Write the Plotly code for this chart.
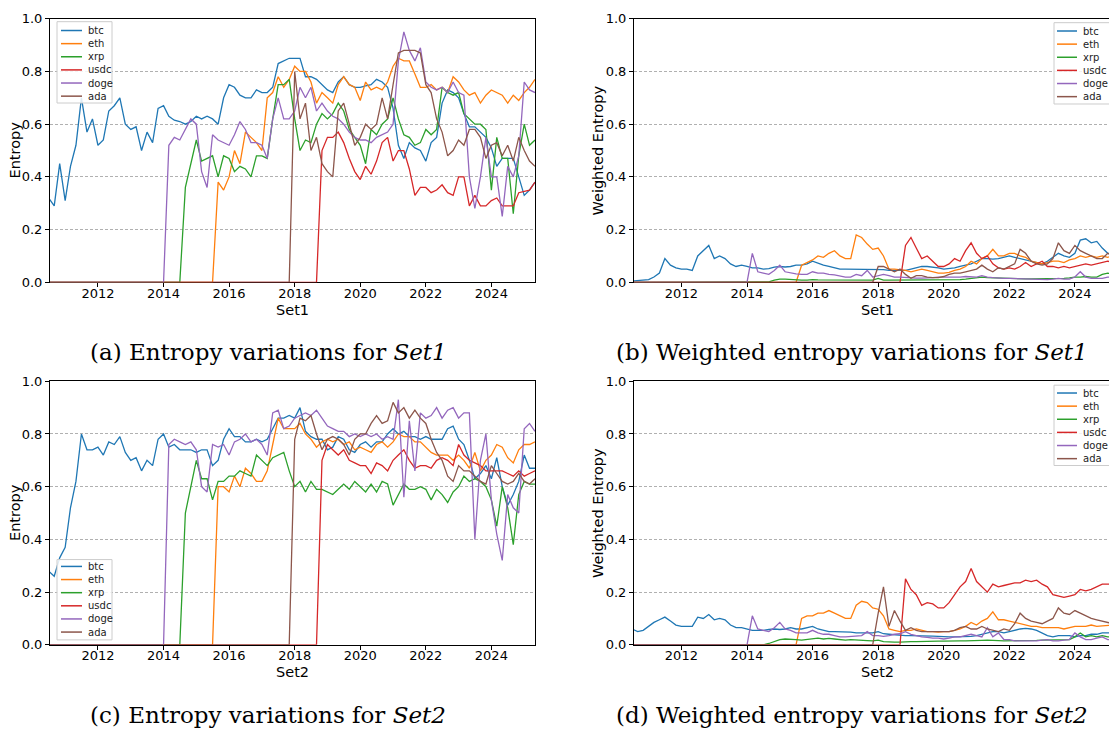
import plotly.graph_objects as go
import pandas as pd

# ---------------- data (bi-monthly samples, Jul 2010 .. May 2025) ----------------
dates = pd.date_range("2010-07-01", periods=90, freq="2MS")
coins = ["btc", "eth", "xrp", "usdc", "doge", "ada"]
colors = ["#1f77b4", "#ff7f0e", "#2ca02c", "#d62728", "#9467bd", "#8c564b"]
tick_labels = ["2012", "2014", "2016", "2018", "2020", "2022", "2024"]

# (a) Entropy, Set1
a_btc = [0.32, 0.29, 0.45, 0.31, 0.44, 0.52, 0.70, 0.57, 0.62, 0.52,
         0.54, 0.65, 0.67, 0.70, 0.60, 0.58, 0.59, 0.50, 0.57, 0.53,
         0.66, 0.67, 0.63, 0.615, 0.61, 0.60, 0.61, 0.63, 0.62, 0.63,
         0.62, 0.60, 0.70, 0.75, 0.74, 0.71, 0.70, 0.70, 0.73, 0.72,
         0.72, 0.74, 0.83, 0.84, 0.85, 0.85, 0.85, 0.78, 0.78, 0.77,
         0.75, 0.73, 0.72, 0.76, 0.78, 0.75, 0.74, 0.74, 0.745, 0.75,
         0.77, 0.76, 0.74, 0.66, 0.52, 0.47, 0.53, 0.51, 0.50, 0.46,
         0.53, 0.55, 0.68, 0.73, 0.72, 0.70, 0.64, 0.59, 0.59, 0.57,
         0.55, 0.51, 0.44, 0.47, 0.47, 0.47, 0.40, 0.33, 0.35, 0.38]
a_eth = [0.0] * 31 + [
         0.38, 0.35, 0.40, 0.50, 0.45, 0.57, 0.55, 0.53, 0.50,
         0.70, 0.72, 0.78, 0.74, 0.77, 0.82, 0.80, 0.80, 0.76, 0.68,
         0.72, 0.70, 0.68, 0.75, 0.78, 0.75, 0.74, 0.69, 0.76, 0.73,
         0.74, 0.73, 0.76, 0.82, 0.85, 0.84, 0.84, 0.79, 0.74, 0.74,
         0.75, 0.73, 0.74, 0.72, 0.78, 0.76, 0.73, 0.71, 0.72, 0.68,
         0.71, 0.73, 0.72, 0.71, 0.68, 0.71, 0.69, 0.72, 0.74, 0.77]
a_xrp = [0.0] * 25 + [
         0.36, 0.45, 0.54, 0.46, 0.47,
         0.48, 0.40, 0.48, 0.47, 0.42, 0.44, 0.43, 0.40, 0.48, 0.48,
         0.47, 0.62, 0.75, 0.75, 0.77, 0.62, 0.50, 0.54, 0.53, 0.60,
         0.64, 0.62, 0.64, 0.68, 0.65, 0.58, 0.55, 0.52, 0.45, 0.58,
         0.56, 0.60, 0.62, 0.70, 0.62, 0.56, 0.55, 0.52, 0.53, 0.58,
         0.56, 0.58, 0.74, 0.72, 0.71, 0.72, 0.64, 0.62, 0.60, 0.60,
         0.58, 0.35, 0.55, 0.47, 0.47, 0.26, 0.48, 0.60, 0.52, 0.54]
a_usdc = [0.0] * 50 + [
         0.50, 0.55, 0.55, 0.57, 0.53, 0.47, 0.42, 0.39, 0.44, 0.41,
         0.46, 0.53, 0.55, 0.46, 0.50, 0.50, 0.43, 0.33, 0.36, 0.36,
         0.34, 0.35, 0.37, 0.34, 0.33, 0.40, 0.40, 0.29, 0.33, 0.29,
         0.29, 0.31, 0.32, 0.29, 0.29, 0.29, 0.34, 0.345, 0.35, 0.38]
a_doge = [0.0] * 22 + [
         0.52, 0.55, 0.54, 0.58, 0.62, 0.60, 0.42, 0.36,
         0.56, 0.54, 0.53, 0.52, 0.56, 0.61, 0.58, 0.53, 0.53, 0.52,
         0.47, 0.62, 0.70, 0.62, 0.62, 0.65, 0.74, 0.70, 0.74, 0.65,
         0.68, 0.65, 0.63, 0.62, 0.60, 0.57, 0.55, 0.54, 0.54, 0.53,
         0.55, 0.56, 0.57, 0.60, 0.84, 0.95, 0.88, 0.84, 0.89, 0.76,
         0.74, 0.73, 0.74, 0.72, 0.76, 0.72, 0.71, 0.40, 0.28, 0.40,
         0.55, 0.40, 0.40, 0.25, 0.44, 0.40, 0.48, 0.76, 0.73, 0.72]
a_ada = [0.0] * 45 + [
         0.80, 0.62, 0.68, 0.50, 0.55,
         0.45, 0.42, 0.40, 0.65, 0.68, 0.60, 0.52, 0.55, 0.60, 0.58,
         0.60, 0.70, 0.62, 0.75, 0.87, 0.88, 0.88, 0.88, 0.87, 0.75,
         0.72, 0.62, 0.57, 0.48, 0.50, 0.54, 0.52, 0.58, 0.58, 0.55,
         0.47, 0.52, 0.53, 0.48, 0.52, 0.46, 0.55, 0.50, 0.46, 0.44]

# (b) Weighted entropy, Set1
b_btc = [0.005, 0.007, 0.008, 0.01, 0.02, 0.035, 0.09, 0.065, 0.055, 0.05,
         0.05, 0.045, 0.10, 0.12, 0.14, 0.09, 0.10, 0.09, 0.07, 0.06,
         0.065, 0.06, 0.055, 0.055, 0.05, 0.052, 0.058, 0.06, 0.058, 0.06,
         0.065, 0.065, 0.07, 0.08, 0.072, 0.065, 0.06, 0.055, 0.05, 0.05,
         0.05, 0.05, 0.048, 0.048, 0.05, 0.05, 0.048, 0.045, 0.045, 0.043,
         0.045, 0.05, 0.055, 0.06, 0.06, 0.058, 0.055, 0.05, 0.052, 0.055,
         0.06, 0.065, 0.07, 0.08, 0.09, 0.09, 0.088, 0.09, 0.095, 0.10,
         0.095, 0.09, 0.085, 0.08, 0.075, 0.07, 0.08, 0.095, 0.11, 0.10,
         0.095, 0.11, 0.16, 0.165, 0.15, 0.155, 0.13, 0.11, 0.11, 0.11]
b_eth = [0.0] * 31 + [
         0.065, 0.075, 0.085, 0.10, 0.095, 0.11, 0.12, 0.10, 0.09,
         0.09, 0.18, 0.17, 0.145, 0.125, 0.13, 0.10, 0.05, 0.05, 0.048,
         0.045, 0.04, 0.045, 0.05, 0.045, 0.04, 0.035, 0.035, 0.038, 0.045,
         0.05, 0.06, 0.08, 0.07, 0.09, 0.10, 0.125, 0.10, 0.10, 0.11,
         0.11, 0.10, 0.095, 0.08, 0.075, 0.07, 0.075, 0.08, 0.08, 0.075,
         0.085, 0.09, 0.10, 0.095, 0.10, 0.095, 0.10, 0.095, 0.10, 0.10]
b_xrp = [0.0] * 25 + [
         0.002, 0.008, 0.012, 0.012, 0.01,
         0.008, 0.008, 0.008, 0.01, 0.009, 0.009, 0.008, 0.008, 0.009, 0.01,
         0.01, 0.008, 0.008, 0.008, 0.008, 0.015, 0.008, 0.008, 0.008, 0.008,
         0.008, 0.009, 0.009, 0.01, 0.01, 0.01, 0.01, 0.009, 0.01, 0.01,
         0.01, 0.012, 0.015, 0.018, 0.02, 0.018, 0.017, 0.016, 0.016, 0.015,
         0.015, 0.014, 0.013, 0.013, 0.013, 0.014, 0.015, 0.015, 0.015, 0.015,
         0.017, 0.02, 0.02, 0.022, 0.02, 0.02, 0.03, 0.035, 0.03, 0.03]
b_usdc = [0.0] * 50 + [
         0.14, 0.17, 0.13, 0.09, 0.10, 0.08, 0.06, 0.06, 0.07, 0.09,
         0.08, 0.12, 0.15, 0.11, 0.09, 0.10, 0.07, 0.055, 0.05, 0.055,
         0.05, 0.06, 0.075, 0.06, 0.07, 0.08, 0.06, 0.06, 0.055, 0.06,
         0.055, 0.06, 0.065, 0.07, 0.065, 0.07, 0.075, 0.08, 0.075, 0.075]
b_doge = [0.0] * 22 + [
         0.11, 0.04, 0.035, 0.03, 0.045, 0.065, 0.04, 0.035,
         0.032, 0.03, 0.03, 0.04, 0.035, 0.035, 0.03, 0.028, 0.025, 0.02,
         0.02, 0.03, 0.025, 0.045, 0.02, 0.025, 0.03, 0.025, 0.02, 0.02,
         0.018, 0.018, 0.016, 0.016, 0.016, 0.018, 0.02, 0.02, 0.02, 0.018,
         0.02, 0.022, 0.02, 0.02, 0.025, 0.02, 0.018, 0.016, 0.015, 0.015,
         0.014, 0.013, 0.012, 0.012, 0.011, 0.01, 0.01, 0.012, 0.015, 0.012,
         0.012, 0.02, 0.04, 0.02, 0.015, 0.015, 0.015, 0.02, 0.02, 0.02]
b_ada = [0.0] * 45 + [
         0.06, 0.06, 0.05, 0.04, 0.05,
         0.03, 0.015, 0.025, 0.025, 0.02, 0.018, 0.018, 0.022, 0.03, 0.035,
         0.035, 0.04, 0.045, 0.05, 0.065, 0.05, 0.04, 0.055, 0.05, 0.06,
         0.07, 0.125, 0.11, 0.08, 0.07, 0.065, 0.07, 0.09, 0.15, 0.12,
         0.11, 0.14, 0.12, 0.11, 0.10, 0.09, 0.09, 0.11, 0.10, 0.10]

# (c) Entropy, Set2
c_btc = [0.28, 0.26, 0.33, 0.37, 0.52, 0.62, 0.80, 0.74, 0.74, 0.75,
         0.72, 0.77, 0.76, 0.79, 0.73, 0.70, 0.71, 0.66, 0.70, 0.68,
         0.78, 0.80, 0.75, 0.76, 0.74, 0.74, 0.74, 0.73, 0.74, 0.74,
         0.68, 0.70, 0.78, 0.82, 0.79, 0.79, 0.77, 0.77, 0.78, 0.77,
         0.78, 0.82, 0.86, 0.86, 0.87, 0.86, 0.90, 0.81, 0.79, 0.78,
         0.78, 0.74, 0.75, 0.79, 0.78, 0.74, 0.73, 0.76, 0.77, 0.75,
         0.77, 0.77, 0.80, 0.82, 0.80, 0.81, 0.79, 0.79, 0.78, 0.79,
         0.78, 0.78, 0.78, 0.82, 0.83, 0.78, 0.76, 0.70, 0.63, 0.65,
         0.68, 0.63, 0.71, 0.60, 0.53, 0.57, 0.62, 0.72, 0.67, 0.67]
c_eth = [0.0] * 31 + [
         0.60, 0.60, 0.58, 0.64, 0.60, 0.67, 0.65, 0.62, 0.62,
         0.66, 0.76, 0.86, 0.82, 0.82, 0.82, 0.84, 0.80, 0.78, 0.75,
         0.77, 0.78, 0.77, 0.78, 0.76, 0.77, 0.74, 0.75, 0.74, 0.73,
         0.76, 0.77, 0.75, 0.77, 0.80, 0.79, 0.79, 0.77, 0.77, 0.75,
         0.73, 0.72, 0.72, 0.72, 0.70, 0.72, 0.70, 0.67, 0.73, 0.66,
         0.70, 0.72, 0.76, 0.75, 0.71, 0.69, 0.74, 0.76, 0.76, 0.77]
c_xrp = [0.0] * 25 + [
         0.50, 0.60, 0.70, 0.63, 0.63,
         0.55, 0.62, 0.62, 0.64, 0.64, 0.66, 0.65, 0.64, 0.72, 0.70,
         0.68, 0.71, 0.72, 0.73, 0.66, 0.60, 0.62, 0.58, 0.62, 0.59,
         0.59, 0.58, 0.57, 0.59, 0.61, 0.59, 0.62, 0.60, 0.58, 0.61,
         0.58, 0.62, 0.61, 0.53, 0.57, 0.61, 0.59, 0.59, 0.60, 0.59,
         0.55, 0.59, 0.57, 0.54, 0.58, 0.60, 0.64, 0.62, 0.63, 0.62,
         0.60, 0.55, 0.45, 0.60, 0.52, 0.38, 0.57, 0.62, 0.61, 0.61]
c_usdc = [0.0] * 50 + [
         0.70, 0.76, 0.74, 0.72, 0.74, 0.70, 0.69, 0.68, 0.68, 0.65,
         0.69, 0.68, 0.66, 0.70, 0.72, 0.74, 0.70, 0.67, 0.68, 0.68,
         0.67, 0.70, 0.71, 0.70, 0.68, 0.76, 0.72, 0.70, 0.69, 0.68,
         0.66, 0.66, 0.66, 0.66, 0.65, 0.64, 0.66, 0.64, 0.65, 0.66]
c_doge = [0.0] * 22 + [
         0.76, 0.78, 0.77, 0.76, 0.77, 0.74, 0.60, 0.58,
         0.76, 0.75, 0.76, 0.72, 0.77, 0.78, 0.80, 0.77, 0.78, 0.76,
         0.72, 0.88, 0.89, 0.82, 0.83, 0.86, 0.87, 0.88, 0.87, 0.89,
         0.86, 0.83, 0.82, 0.81, 0.81, 0.79, 0.80, 0.79, 0.80, 0.79,
         0.80, 0.78, 0.79, 0.78, 0.93, 0.56, 0.85, 0.66, 0.88, 0.86,
         0.87, 0.90, 0.86, 0.89, 0.90, 0.86, 0.88, 0.88, 0.40, 0.70,
         0.80, 0.55, 0.42, 0.32, 0.57, 0.52, 0.50, 0.82, 0.84, 0.81]
c_ada = [0.0] * 45 + [
         0.78, 0.86, 0.85, 0.87, 0.80,
         0.74, 0.78, 0.79, 0.78, 0.76, 0.72, 0.78, 0.80, 0.80, 0.84,
         0.87, 0.84, 0.85, 0.92, 0.88, 0.90, 0.86, 0.89, 0.86, 0.84,
         0.78, 0.73, 0.70, 0.64, 0.62, 0.68, 0.66, 0.66, 0.64, 0.62,
         0.61, 0.68, 0.65, 0.62, 0.61, 0.62, 0.65, 0.62, 0.61, 0.63]

# (d) Weighted entropy, Set2
d_btc = [0.06, 0.05, 0.055, 0.07, 0.085, 0.095, 0.105, 0.09, 0.075, 0.07,
         0.07, 0.07, 0.105, 0.10, 0.115, 0.095, 0.10, 0.095, 0.075, 0.065,
         0.065, 0.06, 0.055, 0.055, 0.055, 0.058, 0.06, 0.058, 0.06, 0.065,
         0.06, 0.06, 0.065, 0.07, 0.06, 0.055, 0.05, 0.05, 0.05, 0.05,
         0.048, 0.045, 0.045, 0.045, 0.045, 0.05, 0.042, 0.04, 0.038, 0.035,
         0.035, 0.035, 0.035, 0.035, 0.034, 0.033, 0.032, 0.03, 0.03, 0.03,
         0.03, 0.03, 0.032, 0.035, 0.04, 0.045, 0.05, 0.05, 0.045, 0.05,
         0.055, 0.06, 0.062, 0.06, 0.055, 0.045, 0.035, 0.03, 0.035, 0.035,
         0.035, 0.03, 0.035, 0.035, 0.04, 0.04, 0.045, 0.045, 0.045, 0.045]
d_eth = [0.0] * 31 + [
         0.10, 0.11, 0.11, 0.12, 0.12, 0.13, 0.12, 0.11, 0.10,
         0.10, 0.15, 0.165, 0.16, 0.14, 0.135, 0.11, 0.06, 0.055, 0.05,
         0.055, 0.055, 0.06, 0.055, 0.05, 0.05, 0.048, 0.05, 0.05, 0.055,
         0.06, 0.07, 0.085, 0.075, 0.09, 0.10, 0.125, 0.095, 0.095, 0.09,
         0.085, 0.08, 0.075, 0.07, 0.07, 0.065, 0.065, 0.065, 0.065, 0.06,
         0.065, 0.07, 0.07, 0.07, 0.075, 0.07, 0.072, 0.075, 0.075, 0.075]
d_xrp = [0.0] * 25 + [
         0.005, 0.012, 0.02, 0.022, 0.022,
         0.02, 0.018, 0.02, 0.022, 0.025, 0.022, 0.024, 0.022, 0.02, 0.018,
         0.02, 0.018, 0.018, 0.016, 0.015, 0.018, 0.012, 0.01, 0.01, 0.01,
         0.012, 0.012, 0.012, 0.013, 0.013, 0.013, 0.014, 0.014, 0.015, 0.015,
         0.015, 0.015, 0.015, 0.016, 0.017, 0.018, 0.018, 0.016, 0.015, 0.015,
         0.016, 0.016, 0.017, 0.017, 0.017, 0.018, 0.018, 0.018, 0.018, 0.02,
         0.02, 0.03, 0.045, 0.03, 0.035, 0.03, 0.035, 0.03, 0.03, 0.03]
d_usdc = [0.0] * 50 + [
         0.25, 0.21, 0.19, 0.15, 0.16, 0.155, 0.14, 0.14, 0.16, 0.19,
         0.22, 0.24, 0.29, 0.24, 0.22, 0.20, 0.23, 0.22, 0.225, 0.23,
         0.235, 0.235, 0.245, 0.24, 0.245, 0.23, 0.22, 0.19, 0.185, 0.18,
         0.185, 0.19, 0.21, 0.205, 0.21, 0.22, 0.23, 0.23, 0.23, 0.23]
d_doge = [0.0] * 22 + [
         0.11, 0.06, 0.055, 0.05, 0.065, 0.085, 0.06, 0.055,
         0.045, 0.045, 0.045, 0.055, 0.045, 0.04, 0.04, 0.035, 0.03, 0.03,
         0.032, 0.035, 0.035, 0.05, 0.035, 0.035, 0.032, 0.035, 0.04, 0.042,
         0.05, 0.04, 0.035, 0.03, 0.028, 0.025, 0.025, 0.022, 0.025, 0.03,
         0.03, 0.035, 0.04, 0.035, 0.03, 0.065, 0.03, 0.045, 0.02, 0.02,
         0.015, 0.015, 0.015, 0.015, 0.015, 0.018, 0.02, 0.015, 0.015, 0.018,
         0.02, 0.045, 0.03, 0.02, 0.02, 0.025, 0.03, 0.02, 0.02, 0.02]
d_ada = [0.0] * 45 + [
         0.12, 0.22, 0.07, 0.13, 0.09,
         0.055, 0.065, 0.055, 0.05, 0.05, 0.05, 0.05, 0.05, 0.05, 0.055,
         0.065, 0.07, 0.06, 0.06, 0.07, 0.06, 0.055, 0.05, 0.06, 0.055,
         0.08, 0.12, 0.10, 0.09, 0.085, 0.08, 0.09, 0.10, 0.14, 0.12,
         0.115, 0.13, 0.12, 0.11, 0.10, 0.095, 0.09, 0.085, 0.08, 0.08]

panels = [
    ([a_btc, a_eth, a_xrp, a_usdc, a_doge, a_ada], "x", "y"),
    ([b_btc, b_eth, b_xrp, b_usdc, b_doge, b_ada], "x2", "y2"),
    ([c_btc, c_eth, c_xrp, c_usdc, c_doge, c_ada], "x3", "y3"),
    ([d_btc, d_eth, d_xrp, d_usdc, d_doge, d_ada], "x4", "y4"),
]

# ---------------- figure ----------------
W, H = 1109, 740
fig = go.Figure()
for series, xa, ya in panels:
    for name, vals, col in zip(coins, series, colors):
        fig.add_trace(go.Scatter(x=dates, y=vals, mode="lines", name=name,
                                 line=dict(color=col, width=1.3),
                                 xaxis=xa, yaxis=ya, showlegend=False))

def px_x(p):
    return p / W

def px_y(p):
    return 1 - p / H

tickvals = [pd.Timestamp(f"{t}-01-01") for t in tick_labels]
font_ticks = dict(family="DejaVu Sans", size=13, color="black")

def xaxis_cfg(dom, rng, mirror):
    return dict(domain=dom, range=rng, type="date", tickmode="array",
                tickvals=tickvals, ticktext=tick_labels, ticks="outside",
                ticklen=4, tickwidth=1, tickcolor="black", showline=True,
                linecolor="black", linewidth=1, mirror=mirror, showgrid=False,
                zeroline=False, tickfont=font_ticks, layer="below traces",
                ticklabelstandoff=-5)

def yaxis_cfg(dom, anchor, mirror):
    return dict(domain=dom, range=[0, 1], anchor=anchor, tickmode="array",
                tickvals=[0, 0.2, 0.4, 0.6, 0.8, 1.0],
                ticktext=["0.0", "0.2", "0.4", "0.6", "0.8", "1.0"],
                ticks="outside", ticklen=4, tickwidth=1, tickcolor="black",
                showline=True, linecolor="black", linewidth=1, mirror=mirror,
                showgrid=True, gridcolor="#b0b0b0", gridwidth=0.8,
                griddash="3px,2px", zeroline=False, tickfont=font_ticks,
                layer="below traces")

L_left, R_left = 50, 535
L_right, R_right = 634, W
top1, bot1 = 12, 281
top2, bot2 = 382, 651
dom_xl = [px_x(L_left), px_x(R_left)]
dom_xr = [px_x(L_right), 1.0]
dom_y1 = [px_y(bot1), px_y(top1)]
dom_y2 = [px_y(bot2), px_y(top2)]
rng_l = ["2010-07-16", "2025-05-01"]
rng_r = ["2010-07-22", "2025-01-15"]

fig.update_layout(
    width=W, height=H, margin=dict(l=0, r=0, t=0, b=0),
    paper_bgcolor="white", plot_bgcolor="white", showlegend=False,
    xaxis=dict(**xaxis_cfg(dom_xl, rng_l, True), anchor="y"),
    yaxis=yaxis_cfg(dom_y1, "x", True),
    xaxis2=dict(**xaxis_cfg(dom_xr, rng_r, True), anchor="y2"),
    yaxis2=yaxis_cfg(dom_y1, "x2", False),
    xaxis3=dict(**xaxis_cfg(dom_xl, rng_l, True), anchor="y3"),
    yaxis3=yaxis_cfg(dom_y2, "x3", True),
    xaxis4=dict(**xaxis_cfg(dom_xr, rng_r, True), anchor="y4"),
    yaxis4=yaxis_cfg(dom_y2, "x4", False),
)

ann = []
shapes = []
title_font = dict(family="DejaVu Sans", size=14.5, color="black")
cap_font = dict(family="DejaVu Serif", size=23, color="black")
# axis titles
for (x, y, txt, ang) in [
    (15, (top1 + bot1) / 2, "Entropy", -90),
    (15, (top2 + bot2) / 2, "Entropy", -90),
    (598, (top1 + bot1) / 2, "Weighted Entropy", -90),
    (598, (top2 + bot2) / 2, "Weighted Entropy", -90),
    ((L_left + R_left) / 2, 309, "Set1", 0),
    (877, 309, "Set1", 0),
    ((L_left + R_left) / 2, 679, "Set2", 0),
    (877, 679, "Set2", 0),
]:
    ann.append(dict(x=px_x(x), y=px_y(y), xref="paper", yref="paper", text=txt,
                    textangle=ang, showarrow=False, font=title_font,
                    xanchor="center", yanchor="middle"))
# captions
for (x, y, txt) in [
    (268, 352, "(a) Entropy variations for <i>Set1</i>"),
    (852, 352, "(b) Weighted entropy variations for <i>Set1</i>"),
    (268, 723, "(c) Entropy variations for <i>Set2</i>"),
    (852, 723, "(d) Weighted entropy variations for <i>Set2</i>"),
]:
    ann.append(dict(x=px_x(x), y=px_y(y), xref="paper", yref="paper", text=txt,
                    showarrow=False, font=cap_font, xanchor="center", yanchor="middle"))

# compact matplotlib-style legends (frame, line samples, labels)
def add_legend(bx0, bx1, by0, by1, lx0, lx1, tx, y0, step):
    shapes.append(dict(type="rect", xref="paper", yref="paper",
                       x0=px_x(bx0), x1=px_x(bx1), y0=px_y(by1), y1=px_y(by0),
                       fillcolor="rgba(255,255,255,0.85)",
                       line=dict(color="#cccccc", width=1), layer="above"))
    for i, (name, col) in enumerate(zip(coins, colors)):
        yy = y0 + i * step
        shapes.append(dict(type="line", xref="paper", yref="paper",
                           x0=px_x(lx0), x1=px_x(lx1), y0=px_y(yy), y1=px_y(yy),
                           line=dict(color=col, width=1.5), layer="above"))
        ann.append(dict(x=px_x(tx), y=px_y(yy), xref="paper", yref="paper",
                        text=name, showarrow=False, xanchor="left", yanchor="middle",
                        font=dict(family="DejaVu Sans", size=10, color="#222222")))

add_legend(57, 112, 15, 98, 61, 82, 86, 24, 13.4)
add_legend(1054, 1125, 16, 99, 1057, 1077, 1081, 24.5, 13.4)
add_legend(57, 112, 564, 646, 61, 82, 86, 571, 13.4)
add_legend(1054, 1125, 386, 468, 1057, 1077, 1081, 394, 13.4)

fig.update_layout(annotations=ann, shapes=shapes)

fig.write_html("out.html")
